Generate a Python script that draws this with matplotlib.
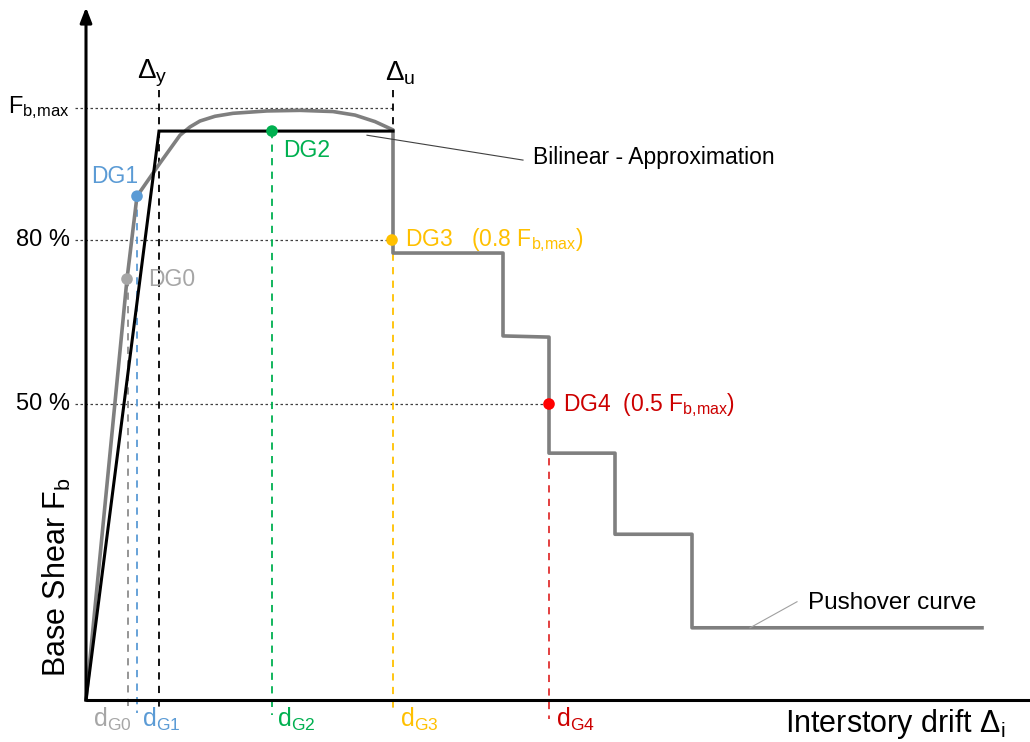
import matplotlib
matplotlib.use("Agg")
import matplotlib.pyplot as plt

plt.rcParams["font.family"] = ["Liberation Sans", "DejaVu Sans"]
plt.rcParams["mathtext.default"] = "regular"

# pushover curve (drift, F / Fb,max)
PUSH_X = [0.0, 0.41, 0.51, 0.74, 0.94, 1.04, 1.14, 1.29, 1.47, 1.81, 2.14,
          2.47, 2.69, 2.89, 3.07, 3.07, 4.17, 4.17, 4.63, 4.63, 5.29, 5.29,
          6.06, 6.06, 8.96]
PUSH_Y = [0.0, 0.711, 0.851, 0.907, 0.954, 0.968, 0.978, 0.986, 0.991, 0.995,
          0.996, 0.994, 0.988, 0.977, 0.963, 0.755, 0.755, 0.615, 0.613, 0.417,
          0.417, 0.280, 0.280, 0.122, 0.122]

# bilinear approximation
BIL_X = [0.0, 0.73, 3.07]
BIL_Y = [0.0, 0.961, 0.961]
DELTA_Y = 0.73
DELTA_U = 3.07

# damage grade points
DG_NAMES = ["DG0", "DG1", "DG2", "DG3", "DG4"]
DG_X = [0.41, 0.51, 1.86, 3.06, 4.63]
DG_Y = [0.711, 0.851, 0.961, 0.777, 0.500]
DG_LINE_X = [0.42, 0.51, 1.86, 3.07, 4.63]
DG_LINE_BOTTOM = [-0.02, -0.022, -0.025, -0.02, -0.032]
DG_COLORS = ["#a6a6a6", "#5b9bd5", "#00b050", "#ffc000", "#ff0000"]
DG_TEXT_COLORS = ["#a6a6a6", "#5b9bd5", "#00b050", "#ffc000", "#cc0000"]
DG_LINE_COLORS = ["#8c8c8c", "#5b9bd5", "#00b050", "#ffc000", "#e03030"]
D_LABEL_X = [0.07, 0.56, 1.91, 3.14, 4.70]

# reference levels on the force axis
LEVELS = [1.0, 0.777, 0.5]
LEVEL_END = [3.07, 3.06, 4.63]
LEVEL_LABELS = ["F$_{b{,}max}$", "80 %", "50 %"]

fig = plt.figure(figsize=(10.3, 7.42), dpi=100)
ax = fig.add_axes([0, 0, 1, 1])
ax.set_xlim(-0.86, 9.44)
ax.set_ylim(-0.0709, 1.1824)
ax.axis("off")

# axes
ax.plot([0, 9.44], [0, 0], color="black", lw=2.2, solid_capstyle="butt", zorder=6)
ax.annotate("", xy=(0, 1.17), xytext=(0, 0),
            arrowprops=dict(arrowstyle="-|>,head_length=0.9,head_width=0.35",
                            color="black", lw=2.2, shrinkA=0, shrinkB=0),
            zorder=6)

# reference level lines and labels
for lev, end, lab in zip(LEVELS, LEVEL_END, LEVEL_LABELS):
    ax.plot([-0.11, end], [lev, lev], color="#404040", lw=0.9,
            dashes=(2, 2), zorder=1)
    ax.text(-0.16, lev, lab, ha="right", va="center", fontsize=17)

# yield / ultimate drift lines
ax.plot([DELTA_Y, DELTA_Y], [1.03, -0.017], color="black", lw=1.3,
        dashes=(4, 3.5), zorder=2)
ax.plot([DELTA_U, DELTA_U], [1.03, 0.78], color="black", lw=1.3,
        dashes=(4, 3.5), zorder=2)
ax.text(DELTA_Y - 0.22, 1.059, r"$\Delta_y$", ha="left", va="center", fontsize=20)
ax.text(DELTA_U - 0.08, 1.059, r"$\Delta_u$", ha="left", va="center", fontsize=20)

# damage grade drift lines
for lx, ly, lb, lc in zip(DG_LINE_X, DG_Y, DG_LINE_BOTTOM, DG_LINE_COLORS):
    ax.plot([lx, lx], [ly, lb], color=lc, lw=1.3, dashes=(4, 3.5), zorder=2)

# curves
ax.plot(PUSH_X, PUSH_Y, color="#7f7f7f", lw=2.6, solid_joinstyle="round", zorder=3)
ax.plot(BIL_X, BIL_Y, color="black", lw=2.2, solid_joinstyle="miter", zorder=4)

# damage grade points
ax.scatter(DG_X, DG_Y, s=70, c=DG_COLORS, zorder=7, linewidths=0)

dg_text = ["DG0", "DG1", "DG2", "DG3   (0.8 F$_{b{,}max}$)", "DG4  (0.5 F$_{b{,}max}$)"]
dg_pos = [(0.62, 0.711, "left"), (0.52, 0.885, "right"), (1.97, 0.929, "left"),
          (3.19, 0.777, "left"), (4.77, 0.498, "left")]
for t, (tx, ty, ha), c in zip(dg_text, dg_pos, DG_TEXT_COLORS):
    ax.text(tx, ty, t, ha=ha, va="center", fontsize=16.5, color=c)

for i, (dx, c) in enumerate(zip(D_LABEL_X, DG_TEXT_COLORS)):
    ax.text(dx, -0.046, "d$_{G%d}$" % i, ha="left", va="baseline",
            fontsize=18, color=c)

# annotations
ax.plot([2.81, 4.37], [0.954, 0.912], color="#404040", lw=0.8, zorder=5)
ax.text(4.47, 0.916, "Bilinear - Approximation", ha="left", va="center", fontsize=16.5)
ax.plot([6.64, 7.11], [0.122, 0.166], color="#a0a0a0", lw=0.8, zorder=5)
ax.text(7.22, 0.164, "Pushover curve", ha="left", va="center", fontsize=17.5)

# axis titles
ax.text(-0.29, 0.208, "Base Shear F$_b$", rotation=90, ha="center", va="center",
        fontsize=22)
ax.text(6.99, -0.041, r"Interstory drift $\Delta_i$", ha="left", va="center",
        fontsize=22)

fig.savefig("out.png", dpi=100)
